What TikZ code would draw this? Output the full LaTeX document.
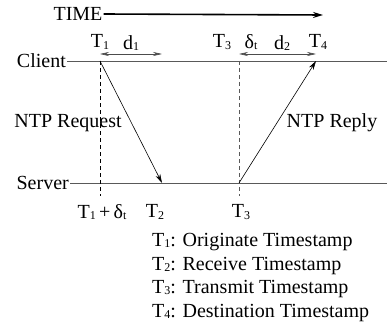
\documentclass[tikz,border=0pt]{standalone}
\usepackage{fontspec}
\setmainfont{Liberation Serif}
\usetikzlibrary{arrows.meta}
\newcommand{\lowsub}[1]{\raisebox{-1.5pt}{\fontsize{12}{13}\selectfont #1}}
\newcommand{\Tsub}[1]{T\lowsub{#1}}
\newcommand{\dsub}{δ\lowsub{t}}
\begin{document}
\begin{tikzpicture}[x=1pt,y=-1pt,font=\fontsize{20}{24}\selectfont,
  hostline/.style={gray!70!black, thick},
  msg/.style={-{Stealth[length=9pt,width=5pt]}, semithick},
  spanarrow/.style={{Stealth[length=9pt,width=4pt]}-{Stealth[length=9pt,width=4pt]}, gray!60!black, semithick},
  tickline/.style={dash pattern=on 4pt off 3pt, semithick},
  lbl/.style={inner sep=1pt}]
\useasboundingbox (0,0) rectangle (387,326);

% time axis
\node[lbl] (time) at (78,14) {TIME};
\coordinate (timeend) at (323,15);
\draw[-{Stealth[length=10pt,width=6pt]}, line width=1.6pt] (time.east) -- (timeend);

% hosts
\node[lbl, anchor=east] (client) at (67,61) {Client};
\node[lbl, anchor=east] (server) at (70,183) {Server};
\coordinate (cend) at (387,61);
\coordinate (send) at (387,183);
\draw[hostline] (client.east) -- (cend);
\draw[hostline] (server.east) -- (send);

% event points
\coordinate (t1) at (100,61);
\coordinate (t2) at (162,183);
\coordinate (t3) at (239,183);
\coordinate (t4) at (316,61);
\coordinate (t3top) at (239,61);
\coordinate (t1low) at (100,196);
\coordinate (t3low) at (239,196);

\draw[tickline] (t1) -- (t1low);
\draw[tickline, gray!70!black] (t3top) -- (t3low);

% messages
\draw[msg] (t1) -- (t2);
\draw[msg] (t3) -- (t4);
\node[lbl] (req) at (68,123) {NTP Request};
\node[lbl] (rep) at (332,123) {NTP Reply};

% delays
\coordinate (d1a) at (100,54);
\coordinate (d1b) at (162,54);
\coordinate (d2a) at (239,54);
\coordinate (d2b) at (316,54);
\draw[spanarrow] (d1a) -- (d1b);
\draw[spanarrow] (d2a) -- (d2b);

% labels above
\node[lbl] (lt1) at (100,42) {\Tsub{1}};
\node[lbl] (ld1) at (131,43) {d\lowsub{1}};
\node[lbl] (lt3) at (222,42) {\Tsub{3}};
\node[lbl] (ldt) at (251,42) {\dsub};
\node[lbl] (ld2) at (282,43) {d\lowsub{2}};
\node[lbl] (lt4) at (318,42) {\Tsub{4}};

% labels below
\node[lbl] (lt1d) at (102,212) {\Tsub{1}\,+\,\dsub};
\node[lbl] (lt2) at (155,212) {\Tsub{2}};
\node[lbl] (lt3b) at (241,212) {\Tsub{3}};

% legend
\node[lbl, anchor=west] (leg1) at (151,242) {\Tsub{1}: Originate Timestamp};
\node[lbl, anchor=west] (leg2) at (151,266) {\Tsub{2}: Receive Timestamp};
\node[lbl, anchor=west] (leg3) at (151,289) {\Tsub{3}: Transmit Timestamp};
\node[lbl, anchor=west] (leg4) at (151,313) {\Tsub{4}: Destination Timestamp};
\end{tikzpicture}
\end{document}
